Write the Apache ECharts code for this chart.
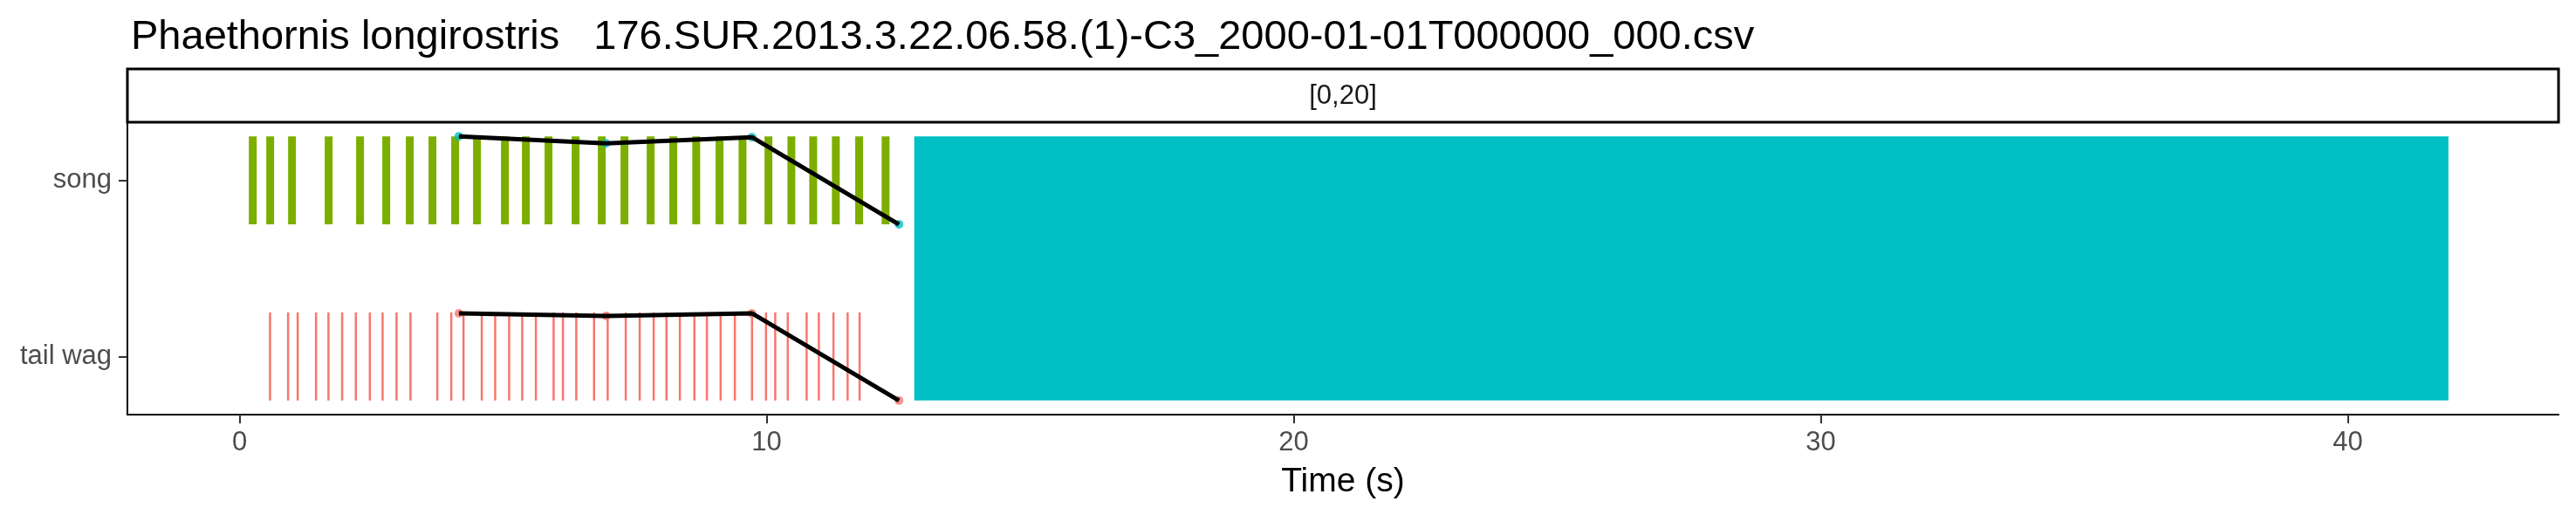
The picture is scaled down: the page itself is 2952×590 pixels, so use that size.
<!DOCTYPE html>
<html><head><meta charset="utf-8">
<script src="https://cdn.jsdelivr.net/npm/echarts@6/dist/echarts.min.js"></script>
<style>html,body{margin:0;padding:0;background:#fff}#c{width:2952px;height:590px}</style>
</head><body><div id="c"></div>
<script>
const titleText = 'Phaethornis longirostris   176.SUR.2013.3.22.06.58.(1)-C3_2000-01-01T000000_000.csv';
const stripLabel = '[0,20]';
const rowLabels = ['song', 'tail wag'];          // rows at y = 1, 2
const xTicks = [0, 10, 20, 30, 40];
const songStart = [0.174, 0.505, 0.919, 1.614, 2.210, 2.707, 3.154, 3.584, 4.015, 4.429, 4.959, 5.356, 5.786, 6.300, 6.796, 7.227, 7.724, 8.154, 8.589, 9.031, 9.467, 9.959, 10.394, 10.808, 11.238, 11.680, 12.182];
const songEnd   = [0.323, 0.654, 1.068, 1.763, 2.359, 2.856, 3.303, 3.733, 4.164, 4.578, 5.108, 5.505, 5.935, 6.449, 6.945, 7.376, 7.873, 8.303, 8.738, 9.180, 9.616, 10.108, 10.543, 10.957, 11.387, 11.829, 12.331];
const tailWagTimes = [0.576, 0.919, 1.101, 1.449, 1.685, 1.945, 2.205, 2.470, 2.712, 2.977, 3.242, 3.750, 4.015, 4.247, 4.594, 4.848, 5.113, 5.361, 5.621, 5.957, 6.134, 6.387, 6.725, 6.983, 7.326, 7.591, 7.856, 8.099, 8.353, 8.629, 8.866, 9.126, 9.396, 9.722, 9.987, 10.162, 10.401, 10.758, 10.990, 11.267, 11.536, 11.763];
const otherStart = [12.80];
const otherEnd = [41.91];
const songTrendT = [4.16, 6.95, 9.72, 12.51];
const songTrendY = [0.75, 0.79, 0.755, 1.25];
const tailTrendT = [4.16, 6.95, 9.72, 12.51];
const tailTrendY = [1.755, 1.77, 1.755, 2.25];

const FONT = '"Liberation Sans", Arial, Helvetica, sans-serif';
const HALF = 0.25;

function rectItem(color) {
  return function (params, api) {
    const p0 = api.coord([api.value(0), api.value(2) - HALF]);
    const p1 = api.coord([api.value(1), api.value(3) + HALF]);
    return {
      type: 'rect',
      shape: { x: Math.min(p0[0], p1[0]), y: Math.min(p0[1], p1[1]),
               width: Math.abs(p1[0] - p0[0]), height: Math.abs(p1[1] - p0[1]) },
      style: { fill: color }
    };
  };
}
function tickItem(params, api) {
  const p0 = api.coord([api.value(0), api.value(1) - HALF]);
  const p1 = api.coord([api.value(0), api.value(1) + HALF]);
  return { type: 'line', shape: { x1: p0[0], y1: p0[1], x2: p1[0], y2: p1[1] },
           style: { stroke: '#F8766D', lineWidth: 2.5 } };
}

const chart = echarts.init(document.getElementById('c'), null, { renderer: 'canvas' });
chart.setOption({
  animation: false,
  backgroundColor: '#fff',
  title: { text: titleText, left: 145, top: 15,
           textStyle: { fontFamily: FONT, fontSize: 47, fontWeight: 'normal', color: '#000' } },
  graphic: [
    { type: 'rect', shape: { x: 146, y: 79, width: 2786, height: 61 },
      style: { fill: '#fff', stroke: '#000', lineWidth: 3 }, z: 10 },
    { type: 'text', x: 1539, y: 110, z: 11,
      style: { text: stripLabel, fontFamily: FONT, fontSize: 31, fill: '#1A1A1A', align: 'center', verticalAlign: 'middle' } }
  ],
  grid: { left: 146, right: 20, top: 140, bottom: 115, containLabel: false },
  xAxis: {
    type: 'value', min: -2.13, max: 44.0,
    name: 'Time (s)', nameLocation: 'middle', nameGap: 58,
    nameTextStyle: { fontFamily: FONT, fontSize: 39, color: '#000', verticalAlign: 'top' },
    axisLine: { show: true, onZero: false, lineStyle: { color: '#000', width: 2 } },
    axisTick: { show: true, length: 10, customValues: xTicks, lineStyle: { color: '#333', width: 2 } },
    axisLabel: { customValues: xTicks, fontFamily: FONT, fontSize: 31, color: '#4D4D4D', margin: 17 },
    splitLine: { show: false }
  },
  yAxis: {
    type: 'value', inverse: true, min: 0.67, max: 2.33,
    axisLine: { show: true, onZero: false, lineStyle: { color: '#000', width: 2 } },
    axisTick: { show: true, length: 10, customValues: [1, 2], lineStyle: { color: '#333', width: 2 } },
    axisLabel: { customValues: [1, 2], formatter: v => rowLabels[Math.round(v) - 1], fontFamily: FONT, fontSize: 31, color: '#4D4D4D', margin: 18 },
    splitLine: { show: false }
  },
  series: [
    { type: 'custom', renderItem: rectItem('#00BFC4'), clip: true,
      data: otherStart.map((s, i) => [s, otherEnd[i], 1, 2]) },
    { type: 'custom', renderItem: rectItem('#7CAE00'), clip: true,
      data: songStart.map((s, i) => [s, songEnd[i], 1, 1]) },
    { type: 'custom', renderItem: tickItem, clip: true,
      data: tailWagTimes.map(t => [t, 2]) },
    { type: 'scatter', symbolSize: 10, itemStyle: { color: '#00BFC4' }, z: 3,
      data: songTrendT.map((t, i) => [t, songTrendY[i]]) },
    { type: 'scatter', symbolSize: 10, itemStyle: { color: '#F8766D' }, z: 3,
      data: tailTrendT.map((t, i) => [t, tailTrendY[i]]) },
    { type: 'line', showSymbol: false, z: 4, lineStyle: { color: '#000', width: 5 },
      data: songTrendT.map((t, i) => [t, songTrendY[i]]) },
    { type: 'line', showSymbol: false, z: 4, lineStyle: { color: '#000', width: 5 },
      data: tailTrendT.map((t, i) => [t, tailTrendY[i]]) }
  ]
});
</script></body></html>
